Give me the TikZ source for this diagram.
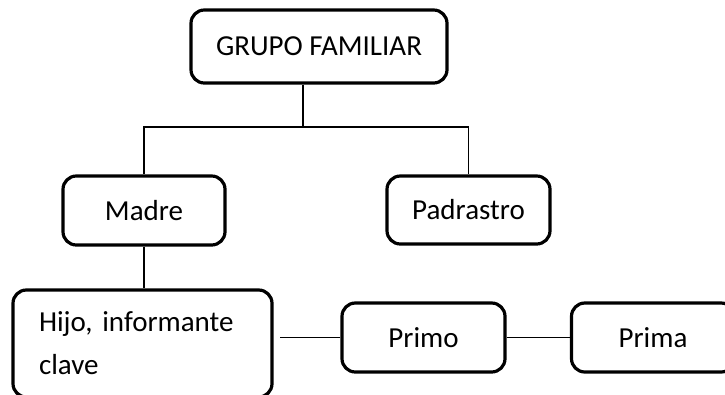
\documentclass[tikz,border=0pt]{standalone}
\usepackage{fontspec}
\setmainfont{Carlito}
\frenchspacing
\begin{document}
\begin{tikzpicture}[x=0.75pt,y=-0.75pt,
  famrect/.style={draw,rounded corners=10pt,line width=2.4pt,inner sep=0pt,
    font=\fontsize{21.75}{32.25}\selectfont},
  link/.style={line width=1pt}]
%%Location
\useasboundingbox (0,0) rectangle (725,394);
%%Boxes
\node[famrect,minimum width=192pt,minimum height=54.75pt] (grupo) at (319,46.5) {GRUPO FAMILIAR};
\node[famrect,minimum width=121.5pt,minimum height=51.75pt] (madre) at (144,210.5) {Madre};
\node[famrect,minimum width=122.25pt,minimum height=51pt] (padrastro) at (468.5,210) {Padrastro};
\node[famrect,minimum height=80.25pt,text width=155.25pt,inner xsep=19.5pt,align=left] (hijo) at (142.5,343.5) {Hijo, informante\\clave};
\node[famrect,minimum width=122.25pt,minimum height=51.75pt] (primo) at (423.5,337.5) {Primo};
\node[famrect,minimum width=122.25pt,minimum height=51.75pt] (prima) at (653,337.5) {Prima};
%%Lines
\coordinate (bus) at (303,127);
\draw[link] (grupo.south -| bus) -- (bus);
\draw[link] (madre.north) |- (bus) -| (padrastro.north);
\draw[link] (madre.south) -- (hijo.north -| madre.south);
\draw[link,shorten >=4.5pt] (primo.west) -- (primo.west -| hijo.east);
\draw[link] (primo.east) -- (prima.west);
\end{tikzpicture}
\end{document}
